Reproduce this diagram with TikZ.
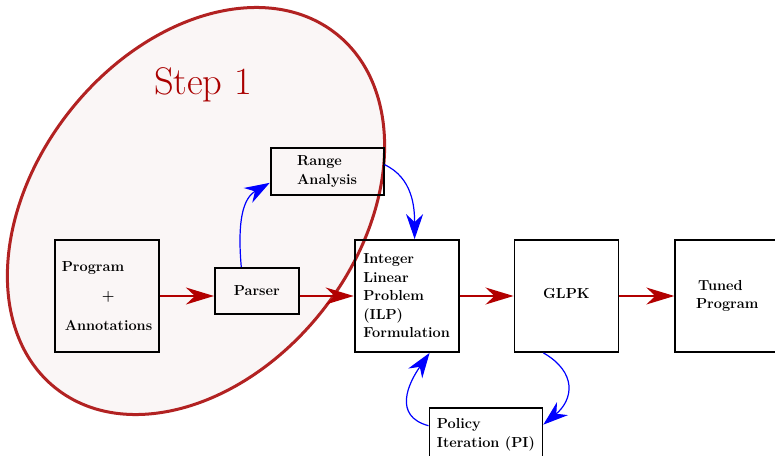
\documentclass[tikz,border=0pt]{standalone}
\usepackage{tikz}
\usetikzlibrary{arrows.meta,positioning}
\definecolor{ringred}{RGB}{178, 34, 34}
\definecolor{ringfill}{RGB}{250, 246, 246}
\definecolor{arrowred}{RGB}{178, 0, 0}
\definecolor{steptext}{RGB}{170, 0, 0}
\tikzstyle{blk} = [rectangle, draw=black, line width=1.8pt, inner sep=0pt, align=left, font=\fontsize{14.5}{18.5}\selectfont\bfseries]
\tikzstyle{bigblk} = [blk, minimum width=104pt, minimum height=112pt]
\tikzstyle{redge} = [draw=arrowred, line width=1.5pt, -{Stealth[length=28pt, width=17pt, inset=9pt]}]
\tikzstyle{bedge} = [draw=blue, line width=1.2pt, -{Stealth[length=25pt, width=17pt, inset=8pt]}]

\begin{document}
\begin{tikzpicture}[x=1pt, y=1pt]
\useasboundingbox (0,0) rectangle (775,455);

% step 1 region =============================
\coordinate (ringc) at (196,244);
\draw[draw=ringred, fill=ringfill, line width=3pt, rotate around={51.7:(ringc)}] (ringc) ellipse [x radius=226, y radius=161];
\node[text=steptext, font=\fontsize{38.5}{40}\selectfont] (steplbl) at (203,370) {Step 1};

% blocks
\node[bigblk] (prog) at (107,159) {Program\\[11pt]\hspace*{40pt}+\\[11pt]\hspace*{3pt}Annotations};
\node[blk, minimum width=84pt, minimum height=46pt, right=54pt of prog, yshift=5pt] (parser) {Parser};
\node[blk, minimum width=113pt, minimum height=47pt, above right=71pt and -30pt of parser] (range) {Range\\Analysis};
\node[bigblk, right=54pt of parser, yshift=-5pt] (ilp) {Integer\\Linear\\Problem\\(ILP)\\Formulation};
\node[bigblk, right=54pt of ilp] (glpk) {\raisebox{5pt}{GLPK}};
\node[bigblk, right=55pt of glpk] (tuned) {\hspace*{2pt}Tuned\\Program};
\node[blk, minimum width=113pt, minimum height=54pt, below right=54pt and -31pt of ilp] (policy) {Policy\\Iteration (PI)};

% edges
\path[redge] (prog.east) -- (prog -| parser.west);
\path[redge] (parser.east |- ilp) -- (ilp.west);
\path[redge] (ilp.east) -- (glpk.west);
\path[redge] (glpk.east) -- (tuned.west);

\path[bedge] (parser.123) to[out=95, in=210] (range.191);
\path[bedge] (range.7) to[out=-25, in=90] (ilp.82);
\path[bedge] (glpk.248) to[out=-30, in=40, looseness=1.4] (policy.10);
\path[bedge] (policy.171) to[out=165, in=235, looseness=1.3] (ilp.292);

\end{tikzpicture}
\end{document}
